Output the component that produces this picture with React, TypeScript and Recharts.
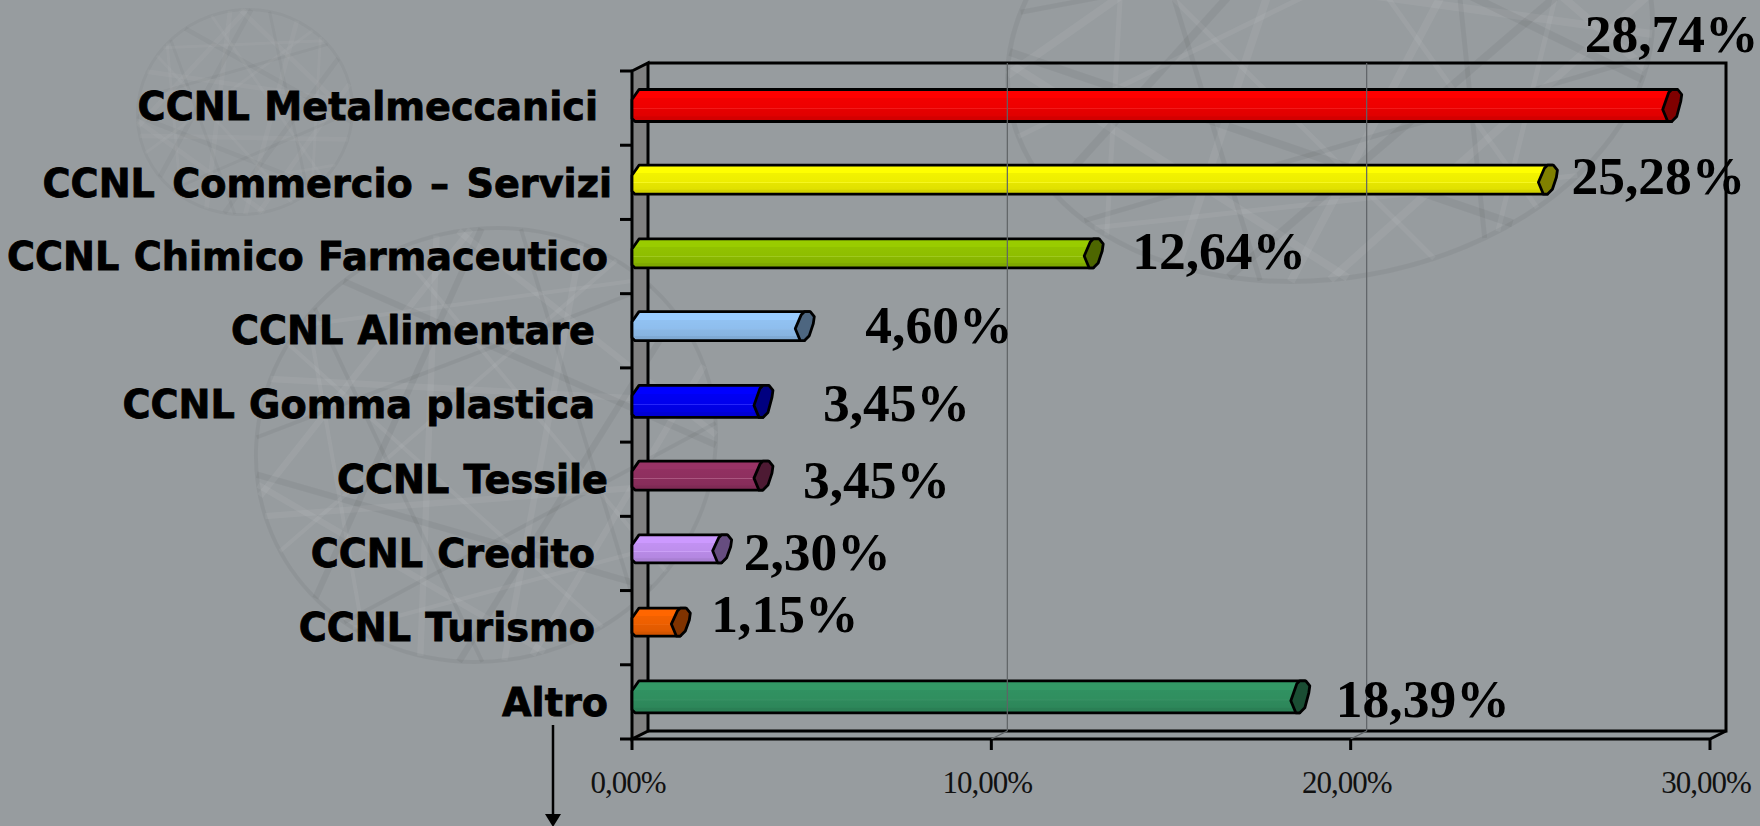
import React from 'react';
import { BarChart, Bar, XAxis, YAxis, LabelList, ReferenceLine } from 'recharts';

const categories = [
  'CCNL Metalmeccanici',
  'CCNL Commercio – Servizi',
  'CCNL Chimico Farmaceutico',
  'CCNL Alimentare',
  'CCNL Gomma plastica',
  'CCNL Tessile',
  'CCNL Credito',
  'CCNL Turismo',
  'Altro',
];
const percentages = [28.74, 25.28, 12.64, 4.6, 3.45, 3.45, 2.3, 1.15, 18.39];
const xTicks = [0, 10, 20, 30];
const barColors = ['#ff0000', '#ffff00', '#99cc00', '#99ccff', '#0000ff', '#993366', '#cc99ff', '#ff6600', '#339966'];
const capColors = ['#800000', '#808000', '#4d6600', '#4d6680', '#000080', '#4d1a33', '#664d80', '#803300', '#1a4d33'];

// layout tweaks, the labels in the original were placed by hand
const labelRight = [598, 612, 608, 595, 595, 608, 595, 595, 608];
const labelBaseline = [120, 197, 270, 344, 418, 493, 567, 641, 716];
const labelWordGap = [1, 4, 1, 1, 1, 1, 1, 1, 1];
const valueDx = [-80, 31, 46, 68, 67, 47, 29, 38, 43];
const valueDy = [-56, 12, 13, 12, 16, 19, 17, 4, 15];
const barThickness = [32, 29, 29, 29, 32, 29, 28, 28, 32];
const barLift = [2.5, 2.5, 3, 4.5, 3.5, 3.5, 4.5, 5.5, 5];

const LEFT = 632;
const RIGHT = 1710;
const TOP = 71;
const BOTTOM = 739;
const DX = 16;
const DY = 8;
const INK = '#000';

const chartData = categories.map((name, i) => ({ name, value: percentages[i] }));

const formatPct = (v: number, digits: number) => v.toFixed(digits).replace('.', ',') + '%';

const CategoryTick = ({ y, payload, index }: any) => {
  const i = payload?.index ?? index;
  const band = (BOTTOM - TOP) / categories.length;
  return (
    <g>
      <line x1={620} x2={LEFT} y1={y - band / 2} y2={y - band / 2} stroke={INK} strokeWidth={3} />
      {i === categories.length - 1 && <line x1={620} x2={LEFT} y1={y + band / 2} y2={y + band / 2} stroke={INK} strokeWidth={3} />}
      <text
        x={labelRight[i]}
        y={labelBaseline[i]}
        textAnchor="end"
        fontFamily="'DejaVu Sans'"
        fontWeight="bold"
        fontSize={38.2}
        wordSpacing={labelWordGap[i]}
        stroke={INK}
        strokeWidth={0.8}
        fill={INK}
      >
        {categories[i]}
      </text>
    </g>
  );
};

const ValueTick = ({ x, payload }: any) => (
  <g>
    <line x1={x} x2={x} y1={BOTTOM} y2={750} stroke={INK} strokeWidth={3} />
    <text x={x - 4} y={793} textAnchor="middle" fontFamily="'Liberation Serif'" fontSize={31} letterSpacing={-1} fill="#111">
      {formatPct(payload.value, 2)}
    </text>
  </g>
);

const TubeBar = ({ x, y, width, height, index }: any) => {
  const t = barThickness[index];
  const cy = y + height / 2 - barLift[index];
  const top = cy - t / 2;
  const bot = cy + t / 2;
  const end = x + width;
  const body = `M${x},${top + 10} L${x + 7},${top} L${end + 12},${top} L${end + 7},${bot} L${x + 3},${bot} L${x},${bot - 3} Z`;
  const cap = `M${end + 4},${top + 3} L${end + 7},${top} L${end + 13},${top} L${end + 17},${top + 5} L${end + 16},${top + 12} L${end + 12},${bot - 5} L${end + 7},${bot} L${end + 3},${bot} L${end - 2},${bot - 12} Z`;
  return (
    <g>
      <path d={body} fill={barColors[index]} />
      <path d={body} fill="url(#tubeShade)" stroke={INK} strokeWidth={2.8} strokeLinejoin="round" />
      <path d={cap} fill={capColors[index]} stroke={INK} strokeWidth={2.8} strokeLinejoin="round" />
    </g>
  );
};

const ValueLabel = ({ x, y, width, height, index }: any) => (
  <text
    x={x + width + valueDx[index]}
    y={y + height / 2 + valueDy[index]}
    fontFamily="'Liberation Serif'"
    fontWeight="bold"
    fontSize={53.5}
    fill={INK}
  >
    {formatPct(percentages[index], 2)}
  </text>
);

const BackGridLine = ({ x1 }: any) => (
  <g stroke="#5f6366" fill="none">
    <line x1={x1 + DX} x2={x1 + DX} y1={TOP - DY} y2={BOTTOM - DY} strokeWidth={1.2} />
    <line x1={x1} x2={x1 + DX} y1={BOTTOM} y2={BOTTOM - DY} strokeWidth={1.2} />
  </g>
);

// faint lattice globes of the slide background: chords across an ellipse
const latticeSteps = [97, 131, 151];

const WireSphere = ({ cx, cy, rx, ry, tilt, alpha, weight }: any) => {
  const spokes = Array.from({ length: 23 }, (_, k) => k * (360 / 23));
  const pt = (deg: number) => {
    const a = (deg * Math.PI) / 180;
    return [cx + rx * Math.cos(a), cy + ry * Math.sin(a)];
  };
  return (
    <g transform={`rotate(${tilt} ${cx} ${cy})`} fill="none">
      <ellipse cx={cx} cy={cy} rx={rx} ry={ry} stroke={`rgba(0,0,0,${alpha * 0.8})`} strokeWidth={weight} />
      {spokes.map((deg, k) => {
        const step = latticeSteps[k % latticeSteps.length];
        const [x1, y1] = pt(deg);
        const [x2, y2] = pt(deg + step);
        const dark = k % 3 === 1;
        return (
          <line
            key={k}
            x1={x1}
            y1={y1}
            x2={x2}
            y2={y2}
            stroke={dark ? `rgba(0,0,0,${alpha * 0.8})` : `rgba(255,255,255,${alpha})`}
            strokeWidth={k % 2 ? weight : weight * 1.6}
          />
        );
      })}
    </g>
  );
};

export default function App() {
  return (
    <div style={{ position: 'absolute', left: 0, top: 0, width: 1760, height: 826, background: '#979c9f', overflow: 'hidden' }}>
      <svg width={1760} height={826} style={{ position: 'absolute', left: 0, top: 0 }}>
        <WireSphere cx={245} cy={112} rx={108} ry={102} tilt={-15} alpha={0.04} weight={3} />
        <WireSphere cx={486} cy={445} rx={232} ry={215} tilt={-20} alpha={0.06} weight={4} />
        <WireSphere cx={1330} cy={50} rx={325} ry={228} tilt={-10} alpha={0.06} weight={5} />
      </svg>
      <div style={{ position: 'absolute', left: 0, top: 0 }}>
        <BarChart
          width={1760}
          height={826}
          data={chartData}
          layout="vertical"
          margin={{ top: TOP, right: 1760 - RIGHT, bottom: 0, left: 0 }}
          barSize={30}
        >
          <defs>
            <linearGradient id="tubeShade" x1="0" y1="0" x2="0" y2="1">
              <stop offset="0" stopColor="#000" stopOpacity={0} />
              <stop offset="0.28" stopColor="#000" stopOpacity={0} />
              <stop offset="0.28" stopColor="#000" stopOpacity={0.05} />
              <stop offset="0.58" stopColor="#000" stopOpacity={0.07} />
              <stop offset="0.6" stopColor="#fff" stopOpacity={0.18} />
              <stop offset="0.62" stopColor="#000" stopOpacity={0.1} />
              <stop offset="0.83" stopColor="#000" stopOpacity={0.12} />
              <stop offset="0.85" stopColor="#000" stopOpacity={0.17} />
              <stop offset="1" stopColor="#000" stopOpacity={0.18} />
            </linearGradient>
          </defs>

          {/* 3d box: side wall, back and floor */}
          <polygon points={`${LEFT},${TOP} ${LEFT + DX},${TOP - DY} ${LEFT + DX},${BOTTOM - DY} ${LEFT},${BOTTOM}`} fill="#808080" stroke={INK} strokeWidth={3} />
          <polyline points={`${LEFT + DX},${TOP - DY} ${RIGHT + DX},${TOP - DY} ${RIGHT + DX},${BOTTOM - DY} ${LEFT + DX},${BOTTOM - DY}`} fill="none" stroke={INK} strokeWidth={3} />
          <polyline points={`${LEFT},${BOTTOM} ${RIGHT},${BOTTOM} ${RIGHT + DX},${BOTTOM - DY}`} fill="none" stroke={INK} strokeWidth={3} />

          <XAxis
            type="number"
            domain={[0, 30]}
            ticks={xTicks}
            height={87}
            axisLine={false}
            tickLine={false}
            interval={0}
            tick={<ValueTick />}
          />
          <YAxis
            type="category"
            dataKey="name"
            width={LEFT}
            axisLine={false}
            tickLine={false}
            interval={0}
            tick={<CategoryTick />}
          />
          <ReferenceLine x={10} shape={<BackGridLine />} />
          <ReferenceLine x={20} shape={<BackGridLine />} />
          <Bar dataKey="value" isAnimationActive={false} shape={<TubeBar />}>
            <LabelList dataKey="value" content={<ValueLabel />} />
          </Bar>

          <line x1={553} x2={553} y1={725} y2={816} stroke={INK} strokeWidth={2.5} />
          <polygon points="545,814 561,814 553,827" fill={INK} />
        </BarChart>
      </div>
    </div>
  );
}
